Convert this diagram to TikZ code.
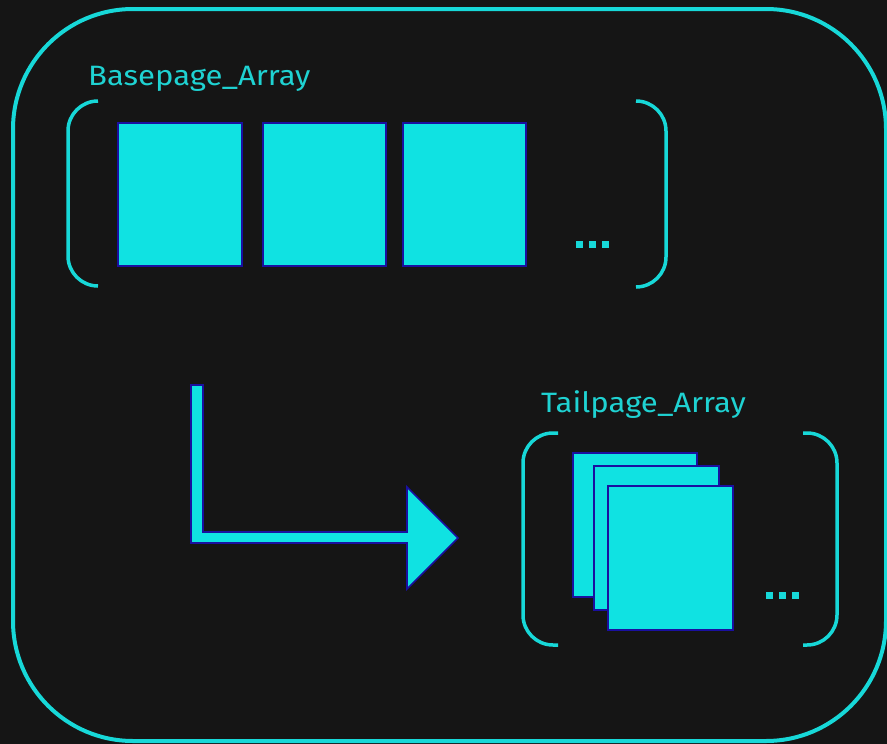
\documentclass[tikz,border=0pt]{standalone}
\usepackage{fontspec}
\setmainfont{Fira Sans}
\newfontfamily\widelabel[FakeStretch=1.11]{Fira Sans}
\definecolor{bgdark}{HTML}{151515}
\definecolor{cyanline}{HTML}{17D8D8}
\definecolor{pagefill}{HTML}{10E2E2}
\definecolor{pageedge}{HTML}{1A10A0}
\definecolor{labelcyan}{HTML}{1FD2D2}
\tikzset{
  frameline/.style={draw=cyanline, line width=4pt, rounded corners=120pt},
  bracketline/.style={draw=cyanline, line width=3.5pt, rounded corners=30pt},
  pagebox/.style={draw=pageedge, fill=pagefill, line width=1.8pt, inner sep=0pt},
  arraylabel/.style={text=labelcyan, font=\widelabel\fontsize{28}{30}\selectfont, inner sep=0pt, anchor=base west},
  dotsq/.style={fill=cyanline, draw=none, inner sep=0pt, minimum size=7pt},
  bendarrow/.style={draw=pageedge, fill=pagefill, line width=1.6pt, line join=miter}
}
\begin{document}
\begin{tikzpicture}[x=1pt, y=-1pt]
  % canvas
  \fill[bgdark] (0,0) rectangle (887,744);
  \useasboundingbox (0,0) rectangle (887,744);
  \clip (0,0) rectangle (887,744);

  % outer container
  \draw[frameline] (13,9) rectangle (886,741);

  % ---- base page array ----
  \node[arraylabel] (baselabel) at (88,85) {Basepage\_Array};
  \draw[bracketline] (98,101) -- (68,101) -- (68,286) -- (98,286);
  \draw[bracketline] (636,101) -- (666,101) -- (666,287) -- (636,287);
  \node[pagebox, minimum width=124pt, minimum height=143pt] (bp1) at (180,194.5) {};
  \node[pagebox, minimum width=123pt, minimum height=143pt] (bp2) at (324.5,194.5) {};
  \node[pagebox, minimum width=123pt, minimum height=143pt] (bp3) at (464.5,194.5) {};
  \node[dotsq] (bd1) at (579,244) {};
  \node[dotsq] (bd2) at (592,244) {};
  \node[dotsq] (bd3) at (605,244) {};

  % ---- tail page array ----
  \node[arraylabel] (taillabel) at (541,412) {Tailpage\_Array};
  \draw[bracketline] (558,433) -- (523,433) -- (523,645) -- (558,645);
  \draw[bracketline] (803,433) -- (837,433) -- (837,645) -- (803,645);
  \node[pagebox, minimum width=124pt, minimum height=144pt] (tp1) at (635,525) {};
  \node[pagebox, minimum width=125pt, minimum height=144pt] (tp2) at (656.5,538) {};
  \node[pagebox, minimum width=125pt, minimum height=144pt] (tp3) at (670.5,558) {};
  \node[dotsq] (td1) at (769,595.5) {};
  \node[dotsq] (td2) at (782,595.5) {};
  \node[dotsq] (td3) at (795,595.5) {};

  % ---- bent arrow from base to tail ----
  \coordinate (arrtop) at (197,385);
  \coordinate (arrtip) at (458,538);
  \draw[bendarrow] (191,385) -- (203,385) -- (203,532) -- (407,532) -- (407,487)
        -- (arrtip) -- (407,589) -- (407,543) -- (191,543) -- cycle;
\end{tikzpicture}
\end{document}
